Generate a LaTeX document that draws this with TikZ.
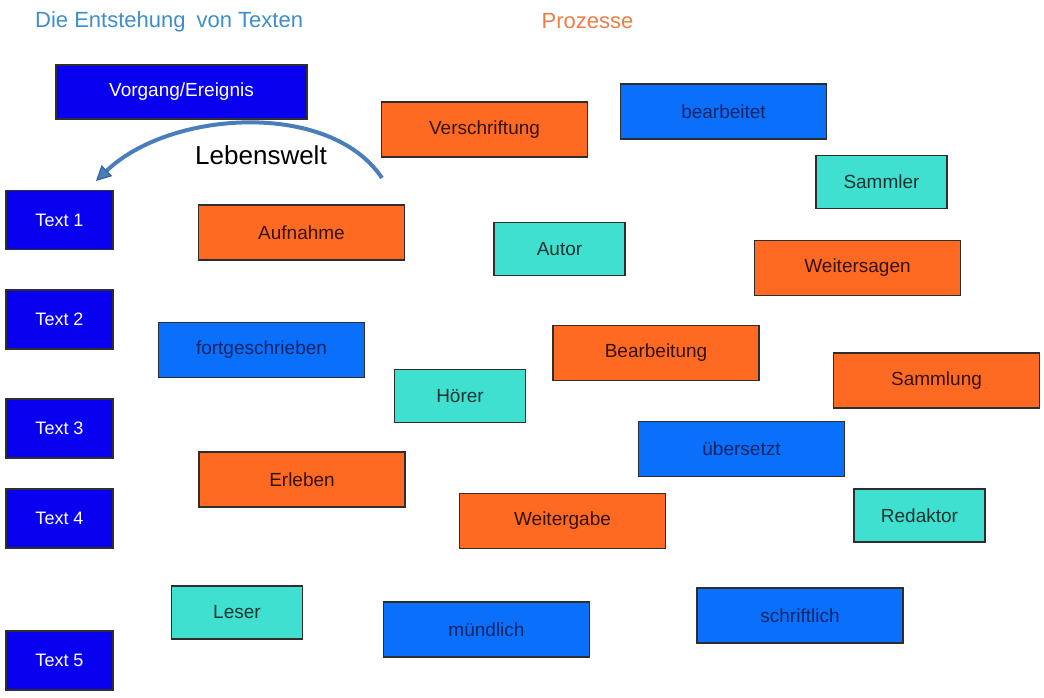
\documentclass[tikz,border=0pt]{standalone}
\usepackage{fontspec}
\setmainfont{Liberation Sans}
\usetikzlibrary{arrows.meta,positioning}
\definecolor{dunkelblau}{HTML}{0A00F0}
\definecolor{mittelblau}{HTML}{0A6FFA}
\definecolor{prozessorange}{HTML}{FF6A22}
\definecolor{tuerkis}{HTML}{40E0D0}
\definecolor{rand}{HTML}{2E2E2E}
\definecolor{titelblau}{HTML}{3E8ECC}
\definecolor{titelorange}{HTML}{EC7D45}
\definecolor{bogen}{HTML}{4A7EBB}
\definecolor{bogenrand}{HTML}{35639C}
\definecolor{schriftrot}{HTML}{34120A}
\definecolor{schriftnavy}{HTML}{102466}
\definecolor{schrifttuerkis}{HTML}{1A3432}
\tikzset{
  kasten/.style={draw=rand, line width=1.1pt, inner sep=0pt, minimum height=55pt, font=\fontsize{19}{22}\selectfont},
  breit/.style={kasten, minimum width=206pt},
  schmal/.style={kasten, minimum width=131pt, minimum height=53pt},
  textkasten/.style={kasten, fill=dunkelblau, text=white, minimum width=107pt, minimum height=59pt, font=\fontsize{18}{21}\selectfont},
  prozess/.style={fill=prozessorange, text=schriftrot},
  merkmal/.style={fill=mittelblau, text=schriftnavy},
  person/.style={fill=tuerkis, text=schrifttuerkis},
  titel/.style={inner sep=0pt, font=\fontsize{22}{26}\selectfont},
  bogenpfeil/.style={draw=bogen, line width=4pt,
    -{Triangle[length=15pt, width=15pt, line width=1.2pt, fill=bogen, color=bogenrand]}},
}

\begin{document}
\begin{tikzpicture}[x=1pt, y=-1pt]
\useasboundingbox (0,0) rectangle (1044,698);

% Ueberschriften
\node[titel, text=titelblau, anchor=west] (titel) at (35,22) {Die Entstehung\enspace von Texten};
\node[titel, text=titelorange] (prozesse) at (587.5,21) {Prozesse};

\node[kasten, fill=dunkelblau, text=white, minimum width=251pt, minimum height=54pt] (vorgang) at (181.5,92) {Vorgang/Ereignis};

% Texte links
\node[textkasten] (text1) at (59.5,220) {Text 1};
\node[textkasten] (text2) at (59.5,319.5) {Text 2};
\node[textkasten] (text3) at (59.5,428.5) {Text 3};
\node[textkasten] (text4) at (59.5,518.5) {Text 4};
\node[textkasten] (text5) at (59.5,660.5) {Text 5};

% Lebenswelt
\coordinate (bogenstart) at (382,178);
\coordinate (bogenziel) at (96,181);
\draw[bogenpfeil] (bogenstart) .. controls (330,100) and (170,110) .. (bogenziel);
\node[inner sep=0pt, font=\fontsize{26}{30}\selectfont] (lebenswelt) at (261,155) {Lebenswelt};

% Prozesse
\node[breit, prozess] (verschriftung) at (484.5,129.5) {Verschriftung};
\node[breit, prozess] (aufnahme) at (301.5,232.5) {Aufnahme};
\node[breit, prozess] (weitersagen) at (857.5,268) {Weitersagen};
\node[breit, prozess] (bearbeitung) at (656,353) {Bearbeitung};
\node[breit, prozess] (sammlung) at (936.5,380.5) {Sammlung};
\node[breit, prozess] (erleben) at (302,479.5) {Erleben};
\node[breit, prozess] (weitergabe) at (562.5,521) {Weitergabe};

% Merkmale
\node[breit, merkmal] (bearbeitet) at (723.5,111.5) {bearbeitet};
\node[breit, merkmal] (fortgeschrieben) at (261.5,350) {fortgeschrieben};
\node[breit, merkmal] (uebersetzt) at (741.5,449) {übersetzt};
\node[breit, merkmal] (muendlich) at (486.5,629.5) {mündlich};
\node[breit, merkmal] (schriftlich) at (800,615.5) {schriftlich};

% Personen
\node[schmal, person] (autor) at (559.5,249) {Autor};
\node[schmal, person] (sammler) at (881.5,182) {Sammler};
\node[schmal, person] (hoerer) at (460,396) {Hörer};
\node[schmal, person] (redaktor) at (919.5,515.5) {Redaktor};
\node[schmal, person] (leser) at (237,612.5) {Leser};
\end{tikzpicture}
\end{document}
